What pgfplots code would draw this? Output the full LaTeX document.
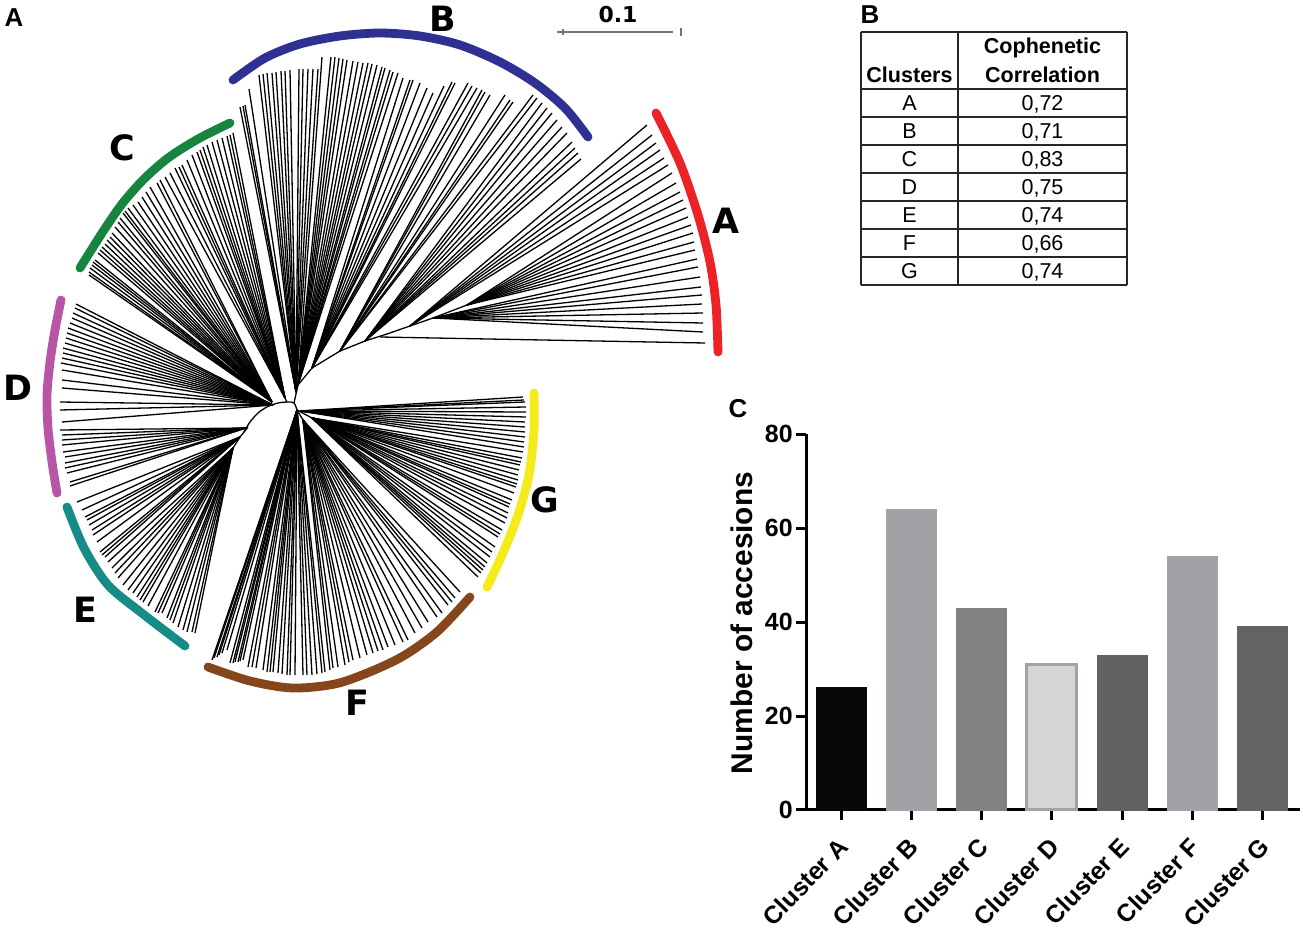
\documentclass[border=0pt]{standalone}
\usepackage{pgfplots}
\pgfplotsset{compat=1.18}
\usepackage{pgfplotstable}
\usepackage{fontspec}
\setmainfont{Liberation Sans}
\newfontfamily\dvb{DejaVu Sans}
\definecolor{cA}{HTML}{EC2227}
\definecolor{cB}{HTML}{2E3192}
\definecolor{cC}{HTML}{17843F}
\definecolor{cD}{HTML}{B855A6}
\definecolor{cE}{HTML}{168B88}
\definecolor{cF}{HTML}{86461C}
\definecolor{cG}{HTML}{F5EB1B}
\definecolor{bA}{HTML}{070909}
\definecolor{bB}{HTML}{A2A2A6}
\definecolor{bC}{HTML}{818282}
\definecolor{bD}{HTML}{D4D5D5}
\definecolor{bDe}{HTML}{A3A3A6}
\definecolor{bE}{HTML}{616262}
\definecolor{bG}{HTML}{626363}

% leaf tips (x y) and the node they hang from (hx hy), in picture pixels
\pgfplotstableread{
x y hx hy
647 125 410 326
652 135 410 326
656 143 410 326
660 150 410 326
664 158 410 326
668 165 410 326
672 173 467 305
676 183 467 305
680 192 467 305
683 200 467 305
686 208 467 305
688 217 467 305
691 225 467 305
693 233 467 305
694 242 467 305
695 250 467 305
697 259 433 318
698 267 433 318
700 277 433 318
701 287 433 318
702 295 433 318
702 304 433 318
703 313 433 318
703 323 433 318
703 332 433 318
705 343 380 337
}\tA
\pgfplotstableread{
x y hx hy
240 107 296 392
243 106 296 392
245 105 296 392
249 89 296 392
259 75 296 392
263 74 296 392
267 73 296 392
272 73 296 392
276 72 296 392
281 71 296 392
285 71 296 392
290 70 296 392
299 69 296 392
303 69 296 392
308 69 296 392
313 69 296 392
318 69 296 392
322 57 298 385
331 57 298 385
335 57 298 385
339 58 298 385
343 59 298 385
347 60 298 385
353 61 298 385
358 62 298 385
363 63 298 385
368 63 298 385
372 64 298 385
377 65 298 385
382 67 298 385
385 68 298 385
390 70 298 385
393 72 298 385
398 73 298 385
403 78 312 368
410 80 312 368
413 80 312 368
420 83 312 368
427 88 312 368
433 93 312 368
444 86 312 368
452 82 312 368
455 83 312 368
468 83 312 368
472 86 312 368
477 88 312 368
482 90 340 351
485 92 340 351
490 95 340 351
505 95 340 351
510 100 340 351
513 102 340 351
533 95 340 351
537 98 340 351
542 103 365 341
547 108 365 341
552 113 365 341
557 120 365 341
562 127 365 341
567 133 365 341
572 142 365 341
575 148 365 341
578 153 365 341
581 159 365 341
}\tB
\pgfplotstableread{
x y hx hy
233 133 285 398
230 135 285 398
227 136 285 398
222 138 285 398
217 140 285 398
212 142 285 398
207 145 285 398
203 147 285 398
200 150 285 398
197 152 285 398
192 155 285 398
187 160 285 398
182 165 285 398
179 167 285 398
175 168 285 398
170 173 285 398
165 177 285 398
160 180 272 402
157 183 272 402
150 187 272 402
146 192 272 402
142 197 272 402
138 202 272 402
133 205 272 402
128 208 272 402
125 211 272 402
123 213 272 402
120 218 272 402
118 222 272 402
115 227 272 402
112 233 272 402
110 237 272 402
107 240 272 402
105 244 272 402
102 247 272 402
100 250 272 402
98 253 272 402
95 260 272 402
93 262 272 402
92 265 272 402
90 268 272 402
89 272 272 402
89 275 272 402
}\tC
\pgfplotstableread{
x y hx hy
76 304 273 405
75 308 273 405
73 313 273 405
72 318 273 405
70 323 273 405
68 328 273 405
67 333 273 405
66 338 273 405
65 343 273 405
63 348 273 405
63 353 273 405
62 358 273 405
61 363 273 405
62 370 273 405
62 380 273 405
62 388 273 405
60 402 273 405
60 410 273 405
62 422 273 405
60 430 246 428
62 435 246 428
62 440 246 428
62 445 246 428
63 452 246 428
65 457 246 428
65 463 246 428
65 468 246 428
67 473 246 428
70 482 246 428
70 486 246 428
}\tD
\pgfplotstableread{
x y hx hy
77 502 240 437
82 510 240 437
85 517 240 437
87 520 240 437
89 525 240 437
92 530 240 437
93 535 240 437
97 542 240 437
100 552 240 437
102 555 240 437
105 557 240 437
108 562 233 448
112 568 233 448
115 573 233 448
118 578 233 448
123 585 233 448
128 590 233 448
133 593 233 448
137 597 233 448
140 600 233 448
143 602 233 448
148 606 233 448
155 612 233 448
158 613 233 448
162 613 233 448
167 618 233 448
170 620 233 448
173 623 233 448
178 627 233 448
183 630 233 448
187 632 233 448
192 632 233 448
195 633 233 448
}\tE
\pgfplotstableread{
x y hx hy
212 660 297 410
214 658 297 410
217 657 297 410
219 655 297 410
222 653 297 410
227 650 297 410
230 663 297 410
233 663 297 410
235 662 297 410
238 662 297 410
240 661 297 410
243 660 297 410
248 667 297 410
252 667 297 410
256 668 297 410
263 670 297 410
267 672 297 410
270 672 297 410
273 672 297 410
278 673 297 410
282 674 297 410
287 675 297 410
290 675 297 410
295 675 297 410
303 675 297 410
307 675 297 410
312 675 297 410
317 674 297 410
322 673 297 410
325 672 297 410
330 670 303 420
333 668 303 420
338 667 303 420
345 665 303 420
349 662 303 420
353 660 303 420
360 658 303 420
367 655 303 420
373 653 303 420
378 651 303 420
383 650 303 420
388 647 303 420
395 645 303 420
403 642 303 420
408 640 303 420
415 633 303 420
422 628 303 420
428 622 303 420
437 617 303 420
442 613 303 420
448 605 303 420
452 602 303 420
455 598 303 420
460 592 303 420
}\tF
\pgfplotstableread{
x y hx hy
523 397 300 411
524 400 300 411
525 402 300 411
526 407 300 411
526 412 300 411
526 417 300 411
525 422 300 411
525 427 300 411
525 432 300 411
525 437 300 411
524 442 300 411
524 447 300 411
523 452 312 418
522 458 312 418
521 462 312 418
520 465 312 418
519 470 312 418
518 475 312 418
518 480 312 418
517 484 312 418
516 487 312 418
514 493 312 418
512 500 312 418
510 504 312 418
509 507 312 418
508 513 312 418
507 518 312 418
505 523 312 418
502 530 312 418
500 534 312 418
498 537 312 418
495 547 312 418
492 552 312 418
490 557 312 418
487 563 312 418
485 567 312 418
483 570 312 418
481 573 312 418
478 577 312 418
}\tG
\pgfplotstableread{
x y hx hy
294 403 298 385
298 385 312 368
312 368 340 351
340 351 365 341
365 341 387 334
387 334 433 318
433 318 467 305
287 402 285 398
248 427 240 437
240 437 233 448
297 410 303 420
297 410 312 418
}\tI

\pgfplotsset{
  leaf/.style={black, line width=0.65bp,
    quiver={u=\thisrow{hx}-\thisrow{x}, v=\thisrow{hy}-\thisrow{y}}},
  clade/.style={line width=4.4bp, line cap=round, smooth},
}

\begin{document}
\begin{tikzpicture}
\begin{axis}[name=main, at={(0,0)}, anchor=south west,
  scale only axis, width=651.5bp, height=466bp,
  xmin=0, xmax=1303, ymin=0, ymax=932, y dir=reverse,
  enlargelimits=false, axis lines=none, ticks=none, clip=false]
% ---- tree ----
\addplot[leaf] table[x=x,y=y] {\tA};
\addplot[leaf] table[x=x,y=y] {\tB};
\addplot[leaf] table[x=x,y=y] {\tC};
\addplot[leaf] table[x=x,y=y] {\tD};
\addplot[leaf] table[x=x,y=y] {\tE};
\addplot[leaf] table[x=x,y=y] {\tF};
\addplot[leaf] table[x=x,y=y] {\tG};
\addplot[leaf] table[x=x,y=y] {\tI};
\addplot[black, line width=0.65bp, smooth] coordinates
  {(244,432)(250,422)(258,413)(267,407)(278,403)(288,402)(294,403)(297,410)};
% ---- clade arcs ----
\addplot[clade, cA] coordinates {(656,113)(680,163)(698,215)(710,262)(716,305)(718,352)};
\addplot[clade, cB] coordinates {(233,80)(265,58)(300,44)(340,36)(380,33)(420,36)(460,45)(500,62)(535,83)(565,108)(588,137)};
\addplot[clade, cC] coordinates {(230,123)(198,139)(168,158)(143,180)(122,204)(104,230)(90,252)(80,268)};
\addplot[clade, cD] coordinates {(61,300)(55,330)(50,362)(47,395)(48,428)(52,462)(57,493)};
\addplot[clade, cE] coordinates {(67,507)(84,548)(108,585)(143,614)(185,646)};
\addplot[clade, cF] coordinates {(208,667)(250,681)(292,688)(335,684)(372,671)(405,655)(438,631)(470,597)};
\addplot[clade, cG] coordinates {(534,393)(534,430)(529,475)(518,515)(503,553)(487,587)};
% clade letters
\begin{scope}[every node/.style={font=\dvb\bfseries\fontsize{17.5}{17.5}\selectfont, inner sep=0pt}]
\node at (axis cs:726,221) {A};
\node at (axis cs:443,19) {B};
\node at (axis cs:122,148) {C};
\node at (axis cs:18,388) {D};
\node at (axis cs:85,610) {E};
\node at (axis cs:357,703) {F};
\node at (axis cs:545,500) {G};
\end{scope}
% scale bar
\addplot[black!55, line width=0.6bp] coordinates {(557,32)(673,32)};
\addplot[black!55, line width=0.6bp] coordinates {(563,29)(563,35)};
\addplot[black!55, line width=0.6bp] coordinates {(681,28)(681,36)};
\node[font=\dvb\bfseries\fontsize{11}{11}\selectfont, inner sep=0pt] at (axis cs:618,15) {0.1};
% panel letters
\begin{scope}[every node/.style={font=\bfseries\fontsize{13}{13}\selectfont, inner sep=0pt}]
\node at (axis cs:14,18) {A};
\node at (axis cs:870,15) {B};
\node at (axis cs:738,409) {C};
\end{scope}
% ---- table ----
\addplot[black!85, line width=0.6bp, unbounded coords=jump] coordinates {
(861,32)(1127,32) (nan,nan)
(861,89)(1127,89) (nan,nan)
(861,117)(1127,117) (nan,nan)
(861,145)(1127,145) (nan,nan)
(861,173)(1127,173) (nan,nan)
(861,201)(1127,201) (nan,nan)
(861,229)(1127,229) (nan,nan)
(861,257)(1127,257) (nan,nan)
(861,285)(1127,285) (nan,nan)
(861,32)(861,285) (nan,nan)
(958,32)(958,285) (nan,nan)
(1127,32)(1127,285)};
\begin{scope}[every node/.style={font=\bfseries\fontsize{10.8}{10.8}\selectfont, inner sep=0pt, anchor=base}]
\node at (axis cs:909.5,82.5) {Clusters};
\node at (axis cs:1042.5,54) {Cophenetic};
\node at (axis cs:1042.5,82.5) {Correlation};
\end{scope}
\begin{scope}[every node/.style={font=\fontsize{10.8}{10.8}\selectfont, inner sep=0pt, anchor=base}]
\node at (axis cs:909.5,111) {A};   \node at (axis cs:1042.5,111) {0,72};
\node at (axis cs:909.5,139) {B};   \node at (axis cs:1042.5,139) {0,71};
\node at (axis cs:909.5,167) {C};   \node at (axis cs:1042.5,167) {0,83};
\node at (axis cs:909.5,195) {D};   \node at (axis cs:1042.5,195) {0,75};
\node at (axis cs:909.5,223) {E};   \node at (axis cs:1042.5,223) {0,74};
\node at (axis cs:909.5,251) {F};   \node at (axis cs:1042.5,251) {0,66};
\node at (axis cs:909.5,279) {G};   \node at (axis cs:1042.5,279) {0,74};
\end{scope}
% bar chart y label
\node[font=\bfseries\fontsize{15}{15}\selectfont, rotate=90, inner sep=0pt] at (axis cs:742,623) {Number of accesions};
\coordinate (bc) at (axis cs:806,810);
\end{axis}

\begin{axis}[at={(bc)}, anchor=south west, scale only axis,
  width=247bp, height=188bp,
  xmin=-0.5, xmax=6.53, ymin=0, ymax=80, enlargelimits=false, clip=false,
  axis x line*=bottom, axis y line*=left,
  axis line style={line width=1.5bp, black},
  xtick={0,1,2,3,4,5,6},
  xticklabels={Cluster A,Cluster B,Cluster C,Cluster D,Cluster E,Cluster F,Cluster G},
  ytick={0,20,40,60,80},
  tick align=outside, major tick length=5bp,
  tick style={line width=1.5bp, black},
  /pgf/number format/assume math mode=true,
  yticklabel style={font=\bfseries\fontsize{12.5}{12.5}\selectfont, inner sep=1.5bp},
  xticklabel style={font=\bfseries\fontsize{12.4}{12.4}\selectfont,
    xshift=-2.2bp, yshift=-7bp, rotate=46, anchor=north east, inner sep=0.5bp},
  every axis plot/.append style={ybar, bar width=25bp, bar shift=0pt}]
\addplot[fill=bA, draw=bA] coordinates {(0,26)};
\addplot[fill=bB, draw=bB] coordinates {(1,64)};
\addplot[fill=bC, draw=bC] coordinates {(2,43)};
\addplot[fill=bD, draw=bDe, line width=1.5bp] coordinates {(3,31)};
\addplot[fill=bE, draw=bE] coordinates {(4,33)};
\addplot[fill=bB, draw=bB] coordinates {(5,54)};
\addplot[fill=bG, draw=bG] coordinates {(6,39)};
\end{axis}
\pgfresetboundingbox
\path[use as bounding box] (main.south west) rectangle (main.north east);
\end{tikzpicture}
\end{document}
